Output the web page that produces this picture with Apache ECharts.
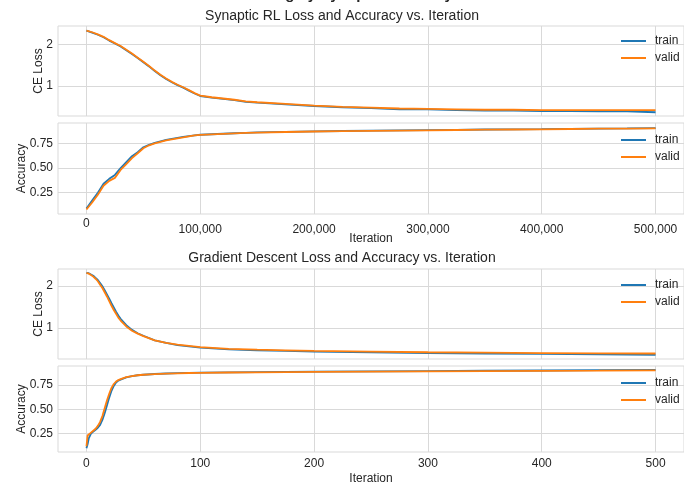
<!DOCTYPE html>
<html>
<head>
<meta charset="utf-8">
<script src="https://cdn.jsdelivr.net/npm/echarts@6/dist/echarts.min.js"></script>
<style>
  html, body { margin: 0; padding: 0; background: #fff; }
  #chart { width: 684px; height: 486px; }
</style>
</head>
<body>
<div id="chart"></div>
<script>
// Synaptic RL run (x = iteration)
const srlIter = [0, 5000, 10000, 15000, 20000, 25000, 30000, 35000, 40000, 45000,
  50000, 55000, 60000, 65000, 70000, 75000, 80000, 85000, 90000, 95000,
  100000, 110000, 120000, 130000, 140000, 150000, 175000, 200000, 225000, 250000,
  275000, 300000, 325000, 350000, 375000, 400000, 425000, 450000, 475000, 500000];
const srlLossTrain = [2.33, 2.28, 2.23, 2.17, 2.09, 2.02, 1.95, 1.86, 1.77, 1.67,
  1.57, 1.47, 1.36, 1.26, 1.17, 1.09, 1.02, 0.96, 0.89, 0.82,
  0.76, 0.72, 0.69, 0.66, 0.62, 0.60, 0.56, 0.52, 0.49, 0.47,
  0.44, 0.44, 0.42, 0.41, 0.41, 0.40, 0.40, 0.39, 0.39, 0.37];
const srlLossValid = [2.33, 2.29, 2.24, 2.18, 2.10, 2.03, 1.96, 1.87, 1.78, 1.68,
  1.58, 1.48, 1.37, 1.27, 1.18, 1.10, 1.03, 0.97, 0.90, 0.83,
  0.77, 0.73, 0.70, 0.67, 0.63, 0.61, 0.57, 0.53, 0.50, 0.48,
  0.46, 0.45, 0.44, 0.43, 0.43, 0.42, 0.42, 0.42, 0.42, 0.42];
const srlAccTrain = [0.09, 0.17, 0.25, 0.34, 0.39, 0.43, 0.50, 0.56, 0.62, 0.66,
  0.71, 0.735, 0.755, 0.77, 0.785, 0.795, 0.805, 0.815, 0.823, 0.83,
  0.837, 0.842, 0.847, 0.852, 0.856, 0.86, 0.867, 0.872, 0.875, 0.878,
  0.881, 0.884, 0.887, 0.89, 0.892, 0.894, 0.897, 0.9, 0.902, 0.905];
const srlAccValid = [0.08, 0.15, 0.23, 0.32, 0.37, 0.40, 0.48, 0.54, 0.60, 0.65,
  0.70, 0.73, 0.75, 0.765, 0.78, 0.79, 0.80, 0.81, 0.82, 0.83,
  0.835, 0.84, 0.845, 0.85, 0.855, 0.858, 0.865, 0.87, 0.873, 0.876,
  0.879, 0.882, 0.885, 0.888, 0.89, 0.892, 0.895, 0.898, 0.9, 0.902];

// Gradient descent run
const gdIter = [0, 1, 2, 4, 6, 8, 10, 12, 14, 16, 18, 20, 22, 24, 26, 28, 30, 35,
  40, 45, 50, 60, 70, 80, 90, 100, 125, 150, 175, 200, 250, 300, 350, 400, 450, 500];
const gdLossTrain = [2.31, 2.31, 2.30, 2.27, 2.24, 2.19, 2.14, 2.07, 1.99, 1.90, 1.80, 1.70,
  1.59, 1.49, 1.39, 1.30, 1.22, 1.07, 0.96, 0.88, 0.82, 0.71, 0.65, 0.60, 0.57, 0.54,
  0.50, 0.475, 0.46, 0.445, 0.425, 0.41, 0.40, 0.39, 0.38, 0.37];
const gdLossValid = [2.31, 2.30, 2.29, 2.26, 2.22, 2.17, 2.11, 2.03, 1.95, 1.85, 1.75, 1.64,
  1.53, 1.43, 1.34, 1.25, 1.18, 1.04, 0.94, 0.87, 0.81, 0.71, 0.65, 0.61, 0.58, 0.55,
  0.51, 0.49, 0.475, 0.46, 0.445, 0.43, 0.42, 0.41, 0.405, 0.40];
const gdAccTrain = [0.10, 0.14, 0.20, 0.25, 0.27, 0.29, 0.31, 0.34, 0.39, 0.46, 0.54, 0.62,
  0.69, 0.74, 0.775, 0.795, 0.805, 0.828, 0.84, 0.85, 0.855, 0.863, 0.868, 0.872, 0.875, 0.877,
  0.88, 0.883, 0.885, 0.887, 0.89, 0.893, 0.896, 0.899, 0.902, 0.905];
const gdAccValid = [0.12, 0.23, 0.24, 0.26, 0.28, 0.30, 0.33, 0.37, 0.43, 0.51, 0.59, 0.66,
  0.72, 0.76, 0.785, 0.80, 0.81, 0.83, 0.84, 0.85, 0.855, 0.862, 0.867, 0.87, 0.873, 0.875,
  0.878, 0.88, 0.882, 0.884, 0.887, 0.89, 0.893, 0.895, 0.897, 0.90];

const srlTicks = [0, 100000, 200000, 300000, 400000, 500000];
const gdTicks = [0, 100, 200, 300, 400, 500];
const lossTicks = [1, 2];
const accTicks = [0.25, 0.5, 0.75];

const FONT = 'Liberation Sans';
const TXT = '#262626';
const BLUE = '#1f77b4';
const ORANGE = '#ff7f0e';
const GRID = '#d9d9d9';

function thousands(v) {
  return String(v).replace(/\B(?=(\d{3})+(?!\d))/g, ',');
}
function pairs(xs, ys) {
  return xs.map((x, i) => [x, ys[i]]);
}

const grids = [
  { left: 58, width: 633, top: 26, height: 90 },
  { left: 58, width: 633, top: 123, height: 91 },
  { left: 58, width: 633, top: 269, height: 90 },
  { left: 58, width: 633, top: 366, height: 91 }
].map(g => Object.assign(g, { show: true, borderColor: GRID, borderWidth: 1, backgroundColor: '#fff' }));

function xAxis(idx, ticks, min, max, showLabels, shiftLong, margin, nameGap) {
  return {
    type: 'value', gridIndex: idx, min: min, max: max,
    axisLine: { show: false },
    axisTick: { show: false, customValues: ticks },
    splitLine: { show: true, lineStyle: { color: GRID, width: 1 } },
    axisLabel: {
      show: showLabels, customValues: ticks, margin: margin,
      color: TXT, fontFamily: FONT, fontSize: 12,
      formatter: v => (shiftLong && v !== 0) ? '{n|' + thousands(v) + '}' : thousands(v),
      rich: { n: { padding: [6, 0, 0, 0], color: TXT, fontFamily: FONT, fontSize: 12 } }
    },
    name: showLabels ? 'Iteration' : '',
    nameLocation: 'middle', nameGap: nameGap, nameMoveOverlap: false,
    nameTextStyle: { color: TXT, fontFamily: FONT, fontSize: 12 }
  };
}
function yAxis(idx, ticks, min, max, name, gap, digits) {
  return {
    type: 'value', gridIndex: idx, min: min, max: max,
    axisLine: { show: false },
    axisTick: { show: false, customValues: ticks },
    splitLine: { show: true, lineStyle: { color: GRID, width: 1 } },
    axisLabel: {
      customValues: ticks, margin: 5, color: TXT, fontFamily: FONT, fontSize: 12,
      formatter: v => v.toFixed(digits)
    },
    name: name, nameLocation: 'middle', nameGap: gap, nameRotate: 90, nameMoveOverlap: false,
    nameTextStyle: { color: TXT, fontFamily: FONT, fontSize: 12 }
  };
}
function line(name, color, xi, data) {
  return {
    name: name, type: 'line', xAxisIndex: xi, yAxisIndex: xi,
    data: data, showSymbol: false, symbol: 'none',
    lineStyle: { color: color, width: 1.8 }, itemStyle: { color: color }
  };
}
function legend(top) {
  return {
    data: ['train', 'valid'], orient: 'vertical', left: 621, top: top, padding: 0,
    icon: 'rect', itemWidth: 25, itemHeight: 2, itemGap: 3,
    textStyle: { color: TXT, fontFamily: FONT, fontSize: 12, lineHeight: 14, padding: [0, 0, 0, 4] }
  };
}

const chart = echarts.init(document.getElementById('chart'), null, { renderer: 'canvas' });
chart.setOption({
  animation: false,
  backgroundColor: '#fff',
  title: [
    { text: 'Learning by Synaptic Plasticity', left: 'center', top: -18,
      textStyle: { fontFamily: FONT, fontSize: 15, fontWeight: 'bold', color: TXT } },
    { text: 'Synaptic RL Loss and Accuracy vs. Iteration', left: 'center', top: 4,
      textStyle: { fontFamily: FONT, fontSize: 14, fontWeight: 'normal', color: TXT } },
    { text: 'Gradient Descent Loss and Accuracy vs. Iteration', left: 'center', top: 246,
      textStyle: { fontFamily: FONT, fontSize: 14, fontWeight: 'normal', color: TXT } }
  ],
  legend: [legend(34), legend(133), legend(278), legend(376)],
  grid: grids,
  xAxis: [
    xAxis(0, srlTicks, -25000, 525000, false, false, 4, 18),
    xAxis(1, srlTicks, -25000, 525000, true, true, 4, 19),
    xAxis(2, gdTicks, -25, 525, false, false, 6, 18),
    xAxis(3, gdTicks, -25, 525, true, false, 6, 21)
  ],
  yAxis: [
    yAxis(0, lossTicks, 0.28, 2.44, 'CE Loss', 13, 0),
    yAxis(1, accTicks, 0.034, 0.956, 'Accuracy', 30, 2),
    yAxis(2, lossTicks, 0.27, 2.40, 'CE Loss', 13, 0),
    yAxis(3, accTicks, 0.061, 0.945, 'Accuracy', 30, 2)
  ],
  series: [
    line('train', BLUE, 0, pairs(srlIter, srlLossTrain)),
    line('valid', ORANGE, 0, pairs(srlIter, srlLossValid)),
    line('train', BLUE, 1, pairs(srlIter, srlAccTrain)),
    line('valid', ORANGE, 1, pairs(srlIter, srlAccValid)),
    line('train', BLUE, 2, pairs(gdIter, gdLossTrain)),
    line('valid', ORANGE, 2, pairs(gdIter, gdLossValid)),
    line('train', BLUE, 3, pairs(gdIter, gdAccTrain)),
    line('valid', ORANGE, 3, pairs(gdIter, gdAccValid))
  ]
});
</script>
</body>
</html>
